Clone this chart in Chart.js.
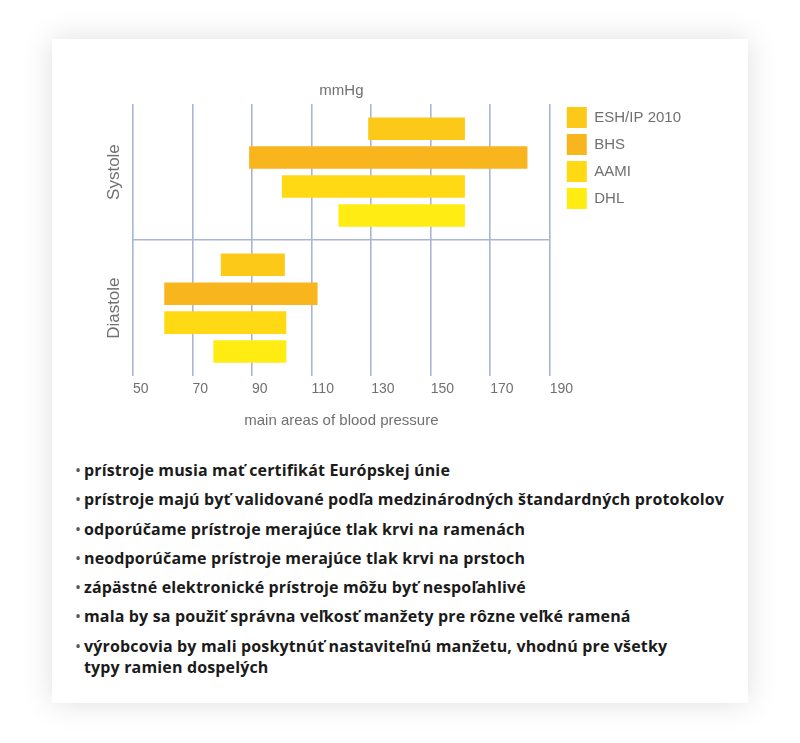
<!DOCTYPE html>
<html>
<head>
<meta charset="utf-8">
<script src="https://cdn.jsdelivr.net/npm/chart.js@4"></script>
<style>
  body { margin: 0; background: #fff; width: 800px; height: 743px; position: relative; overflow: hidden; }
  .card {
    position: absolute; left: 52px; top: 39px; width: 696px; height: 664px;
    background: #fff; box-shadow: 0 0 28px rgba(0,0,0,0.13);
  }
  .chart-box { position: absolute; left: 100px; top: 70px; width: 600px; height: 375px; }
  ul.notes {
    position: absolute; left: 74px; top: 460px; margin: 0; padding: 0; list-style: none;
    font-family: "Open Sans", sans-serif; font-weight: 700; font-size: 16px; letter-spacing: 0.15px;
    color: #1b1b1b; line-height: 21px; width: 680px;
  }
  ul.notes li { margin-bottom: 8.3px; padding-left: 10px; position: relative; }
  ul.notes li:before { content: "\2022"; position: absolute; left: 1px; top: 0; color: #555; font-weight: 400; }
</style>
</head>
<body>
<div class="card"></div>
<div class="chart-box"><canvas id="bp"></canvas></div>
<ul class="notes" id="notes"></ul>

<script>
// categories and series (ranges in mmHg, [from, to])
var categories = ["Systole", "Diastole"];
var seriesNames = ["ESH/IP 2010", "BHS", "AAMI", "DHL"];
var eshValues = [[129, 161.5], [79.5, 101]];
var bhsValues = [[89, 182.5], [60.5, 112]];
var aamiValues = [[100, 161.5], [60.5, 101.5]];
var dhlValues = [[119, 161.5], [77, 101.5]];
var seriesColors = ["#fdc918", "#f9b51e", "#ffd914", "#ffec12"];
var xTicks = [50, 70, 90, 110, 130, 150, 170, 190];

var notes = [
  "prístroje musia mať certifikát Európskej únie",
  "prístroje majú byť validované podľa medzinárodných štandardných protokolov",
  "odporúčame prístroje merajúce tlak krvi na ramenách",
  "neodporúčame prístroje merajúce tlak krvi na prstoch",
  "zápästné elektronické prístroje môžu byť nespoľahlivé",
  "mala by sa použiť správna veľkosť manžety pre rôzne veľké ramená",
  "výrobcovia by mali poskytnúť nastaviteľnú manžetu, vhodnú pre všetky<br>typy ramien dospelých"
];
var ul = document.getElementById("notes");
notes.forEach(function (t) {
  var li = document.createElement("li");
  li.innerHTML = t;
  ul.appendChild(li);
});

var gridColor = "#a9b5d4";
var textColor = "#707070";
var fontFamily = "'Liberation Sans', Arial, sans-serif";

// rotated category labels on the left
const categoryLabels = {
  id: "categoryLabels",
  afterDraw(chart) {
    const ctx = chart.ctx;
    const yScale = chart.scales.y;
    ctx.save();
    ctx.fillStyle = textColor;
    ctx.font = "17px " + fontFamily;
    ctx.textAlign = "center";
    ctx.textBaseline = "middle";
    categories.forEach(function (c, i) {
      const y = yScale.getPixelForValue(i);
      ctx.save();
      ctx.translate(chart.chartArea.left - 19, y);
      ctx.rotate(-Math.PI / 2);
      ctx.fillText(c, 0, 0);
      ctx.restore();
    });
    ctx.restore();
  }
};

const allValues = [eshValues, bhsValues, aamiValues, dhlValues];
new Chart(document.getElementById("bp"), {
  type: "bar",
  plugins: [categoryLabels],
  data: {
    labels: categories,
    datasets: seriesNames.map(function (name, i) {
      return {
        label: name,
        data: allValues[i],
        backgroundColor: seriesColors[i],
        borderWidth: 0,
        categoryPercentage: 0.85,
        barPercentage: 0.78
      };
    })
  },
  options: {
    indexAxis: "y",
    responsive: true,
    maintainAspectRatio: false,
    animation: false,
    layout: { padding: { left: 33, right: 9, bottom: 15, top: 0 } },
    scales: {
      x: {
        type: "linear",
        min: 50,
        max: 190,
        afterBuildTicks: function (scale) {
          scale.ticks = xTicks.map(function (v) { return { value: v }; });
        },
        border: { display: false },
        grid: { color: gridColor, lineWidth: 1.6, drawTicks: false },
        ticks: {
          align: "start",
          padding: 5,
          color: textColor,
          font: { family: fontFamily, size: 14 }
        },
        title: {
          display: true,
          text: "main areas of blood pressure",
          color: textColor,
          padding: { top: 9, bottom: 0 },
          font: { family: fontFamily, size: 15 }
        }
      },
      y: {
        // sits on the right as the gap before the legend; only the middle grid line is drawn
        position: "right",
        border: { display: false },
        grid: {
          offset: true,
          drawTicks: false,
          lineWidth: 1.6,
          color: function (ctx) { return ctx.index === 1 ? gridColor : "rgba(0,0,0,0)"; }
        },
        ticks: { display: false },
        afterFit: function (scale) { scale.width = 11; }
      }
    },
    plugins: {
      tooltip: { enabled: false },
      title: {
        display: true,
        text: "mmHg",
        fullSize: false,
        color: textColor,
        padding: { top: 12, bottom: 4 },
        font: { family: fontFamily, size: 15, weight: "normal" }
      },
      legend: {
        position: "right",
        align: "start",
        title: {
          display: true,
          text: " ",
          padding: { top: 19, bottom: 0 },
          font: { size: 10 }
        },
        labels: {
          boxWidth: 20,
          boxHeight: 21,
          padding: 6,
          color: textColor,
          font: { family: fontFamily, size: 15 }
        }
      }
    }
  }
});
</script>
</body>
</html>
